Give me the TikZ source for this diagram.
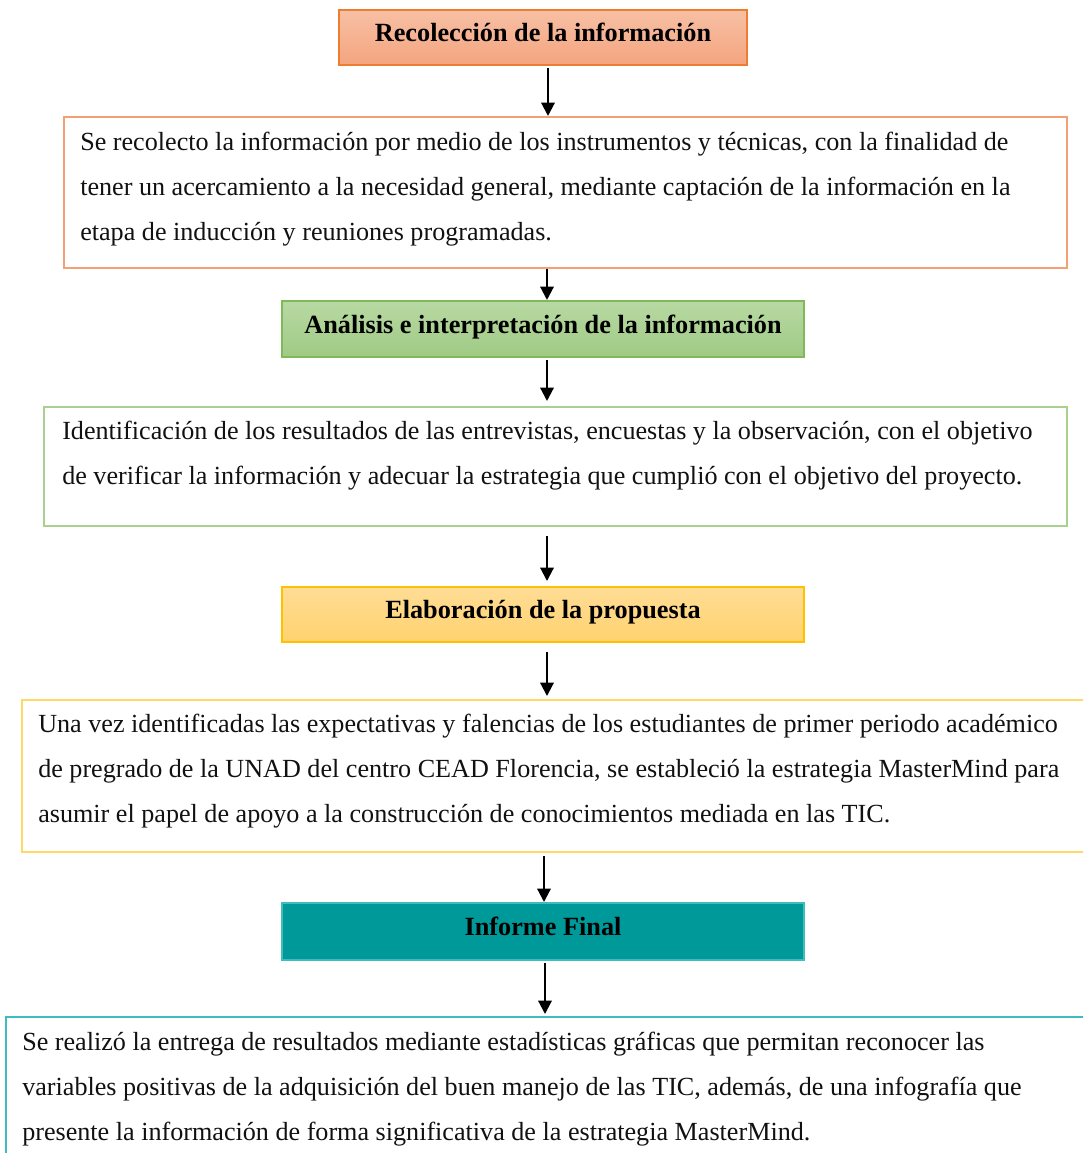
\documentclass[tikz,border=0pt]{standalone}
\usepackage{fontspec}
\setmainfont{Liberation Serif}
\usetikzlibrary{arrows.meta}
\definecolor{orB}{HTML}{ED7D31}
\definecolor{orL}{HTML}{F4A072}
\definecolor{orT}{HTML}{F7C0A4}
\definecolor{orM}{HTML}{F4A47F}
\definecolor{grB}{HTML}{7FB95A}
\definecolor{grL}{HTML}{A9D18E}
\definecolor{grT}{HTML}{B8D9A3}
\definecolor{grM}{HTML}{9FCA84}
\definecolor{yeB}{HTML}{FFC000}
\definecolor{yeL}{HTML}{FFD966}
\definecolor{yeT}{HTML}{FFDD96}
\definecolor{yeM}{HTML}{FFD26E}
\definecolor{teF}{HTML}{009999}
\definecolor{teB}{HTML}{3DBDBD}
\definecolor{txt}{HTML}{111111}
\tikzset{
  x=0.75pt, y=-0.75pt,
  head/.style={rectangle, inner sep=0pt, line width=1.5pt, text=black,
     text height=14pt, text depth=8pt,
     font=\fontsize{19.7}{33.75}\selectfont\bfseries},
  body/.style={rectangle, inner sep=0pt, line width=1.5pt, fill=white},
  bodytext/.style={inner sep=0pt, align=left, text=txt, anchor=north west,
     font=\fontsize{19.6}{33.75}\selectfont},
  arr/.style={line width=1.6pt, -{Triangle[width=10pt,length=10pt]}}
}
\begin{document}
\begin{tikzpicture}
\clip (0,0) rectangle (1083,1153);
\fill[white] (0,0) rectangle (1083,1153);

% box 1
\node[head, draw=orB, top color=orT, bottom color=orM,
  minimum width=306pt, minimum height=41.25pt] (b1) at (543,37.5)
  {Recolección de la información};
% box 2
\node[body, draw=orL, minimum width=752.25pt, minimum height=113.25pt] (b2) at (565.5,192.5) {};
\node[bodytext] (t2) at (80,132) {Se recolecto la información por medio de los instrumentos y técnicas, con la finalidad de\\
tener un acercamiento a la necesidad general, mediante captación de la información en la\\
etapa de inducción y reuniones programadas.};
% box 3
\node[head, draw=grB, top color=grT, bottom color=grM,
  minimum width=391.5pt, minimum height=42pt] (b3) at (543,329)
  {Análisis e interpretación de la información};
% box 4
\node[body, draw=grL, minimum width=767.25pt, minimum height=89.25pt] (b4) at (555.5,466.5) {};
\node[bodytext] (t4) at (62,421) {Identificación de los resultados de las entrevistas, encuestas y la observación, con el objetivo\\
de verificar la información y adecuar la estrategia que cumplió con el objetivo del proyecto.};
% box 5
\node[head, draw=yeB, top color=yeT, bottom color=yeM,
  minimum width=391.5pt, minimum height=41.25pt] (b5) at (543,614.5)
  {Elaboración de la propuesta};
% box 6
\node[body, draw=yeL, minimum width=804.75pt, minimum height=114pt] (b6) at (558.5,776) {};
\node[bodytext] (t6) at (38,714) {Una vez identificadas las expectativas y falencias de los estudiantes de primer periodo académico\\
de pregrado de la UNAD del centro CEAD Florencia, se estableció la estrategia MasterMind para\\
asumir el papel de apoyo a la construcción de conocimientos mediada en las TIC.};
% box 7
\node[head, draw=teB, fill=teF,
  minimum width=391.5pt, minimum height=42.75pt] (b7) at (543,931.5)
  {Informe Final};
% box 8
\node[body, draw=teB, minimum width=816.75pt, minimum height=111pt] (b8) at (550.5,1091) {};
\node[bodytext] (t8) at (22,1032) {Se realizó la entrega de resultados mediante estadísticas gráficas que permitan reconocer las\\
variables positivas de la adquisición del buen manejo de las TIC, además, de una infografía que\\
presente la información de forma significativa de la estrategia MasterMind.};

% arrows
\draw[arr, shorten <=1.5pt] ([xshift=3.75pt]b1.south) -- ([xshift=3.75pt]b1.south |- b2.north);
\draw[arr] ([xshift=3pt]b3.north |- b2.south) -- ([xshift=3pt]b3.north);
\draw[arr, shorten <=1.5pt, shorten >=3.75pt] ([xshift=3pt]b3.south) -- ([xshift=3pt]b3.south |- b4.north);
\draw[arr, shorten <=6.75pt, shorten >=3.75pt] ([xshift=3pt]b5.north |- b4.south) -- ([xshift=3pt]b5.north);
\draw[arr, shorten <=6.75pt, shorten >=2.25pt] ([xshift=3pt]b5.south) -- ([xshift=3pt]b5.south |- b6.north);
\draw[arr, shorten <=2.25pt] ([xshift=0.75pt]b7.north |- b6.south) -- ([xshift=0.75pt]b7.north);
\draw[arr, shorten <=1.5pt, shorten >=1.5pt] ([xshift=1.5pt]b7.south) -- ([xshift=1.5pt]b7.south |- b8.north);
\end{tikzpicture}
\end{document}
